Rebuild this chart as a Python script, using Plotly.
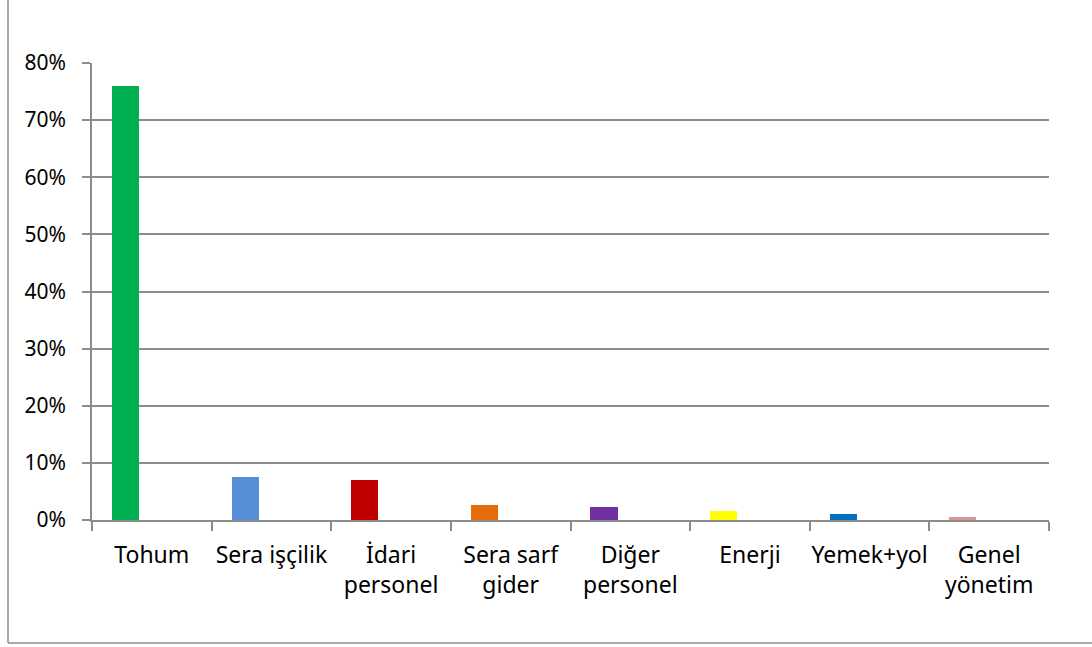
import plotly.graph_objects as go

categories = ["Tohum", "Sera işçilik", "İdari<br>personel", "Sera sarf<br>gider",
              "Diğer<br>personel", "Enerji", "Yemek+yol", "Genel<br>yönetim"]
values = [0.760, 0.075, 0.070, 0.026, 0.022, 0.016, 0.0105, 0.005]
colors = ["#00B050", "#558ED5", "#C00000", "#E46C0A", "#7030A0", "#FFFF00", "#0070C0", "#D99694"]
y_ticks = [0, 0.1, 0.2, 0.3, 0.4, 0.5, 0.6, 0.7, 0.8]

W, H = 1092, 647
L, R, T, B = 92, 43, 63, 127
pw, ph = W - L - R, H - T - B

fig = go.Figure()
fig.add_trace(go.Bar(
    x=categories, y=values, marker=dict(color=colors, line=dict(width=0)),
    width=0.226, offset=-0.333, hoverinfo="x+y",
))

grid = "#8C8C8C"
yfont = dict(family="Noto Sans, Open Sans, sans-serif", size=21, color="#000000")
xfont = dict(family="Noto Sans, Open Sans, sans-serif", size=23, color="#000000")

fig.update_layout(
    width=W, height=H,
    margin=dict(l=L, r=R, t=T, b=B, pad=0),
    paper_bgcolor="white", plot_bgcolor="white",
    showlegend=False, font=yfont, bargap=0,
    xaxis=dict(
        type="category", showgrid=False, showline=True, linecolor=grid, linewidth=1.5,
        ticks="outside", tickson="boundaries", ticklen=9, tickcolor=grid, tickwidth=1.5,
        tickfont=xfont, ticklabelstandoff=14, tickangle=0, automargin=False,
        range=[-0.5, len(categories) - 0.5], fixedrange=True,
    ),
    yaxis=dict(
        range=[0, 0.8], tickvals=y_ticks, tickformat=".0%",
        showgrid=True, gridcolor=grid, gridwidth=1.5,
        showline=True, linecolor=grid, linewidth=1.5,
        ticks="outside", ticklen=8, tickcolor=grid, tickwidth=1.5, automargin=False,
        tickfont=yfont, ticklabelstandoff=12, zeroline=False, fixedrange=True,
    ),
)

# chart area border (left and bottom edges visible)
bx = (8 - L) / pw
by = -(643 - (H - B)) / ph
fig.add_shape(type="line", xref="paper", yref="paper", x0=bx, x1=bx, y0=by, y1=(H - B) / ph,
              line=dict(color="#8C8C8C", width=1.5))
fig.add_shape(type="line", xref="paper", yref="paper", x0=bx, x1=(W - L) / pw + 0.01, y0=by, y1=by,
              line=dict(color="#8C8C8C", width=1.5))

fig.write_html("out.html", config={"displayModeBar": False},
               post_script="document.body.style.margin='0';")
